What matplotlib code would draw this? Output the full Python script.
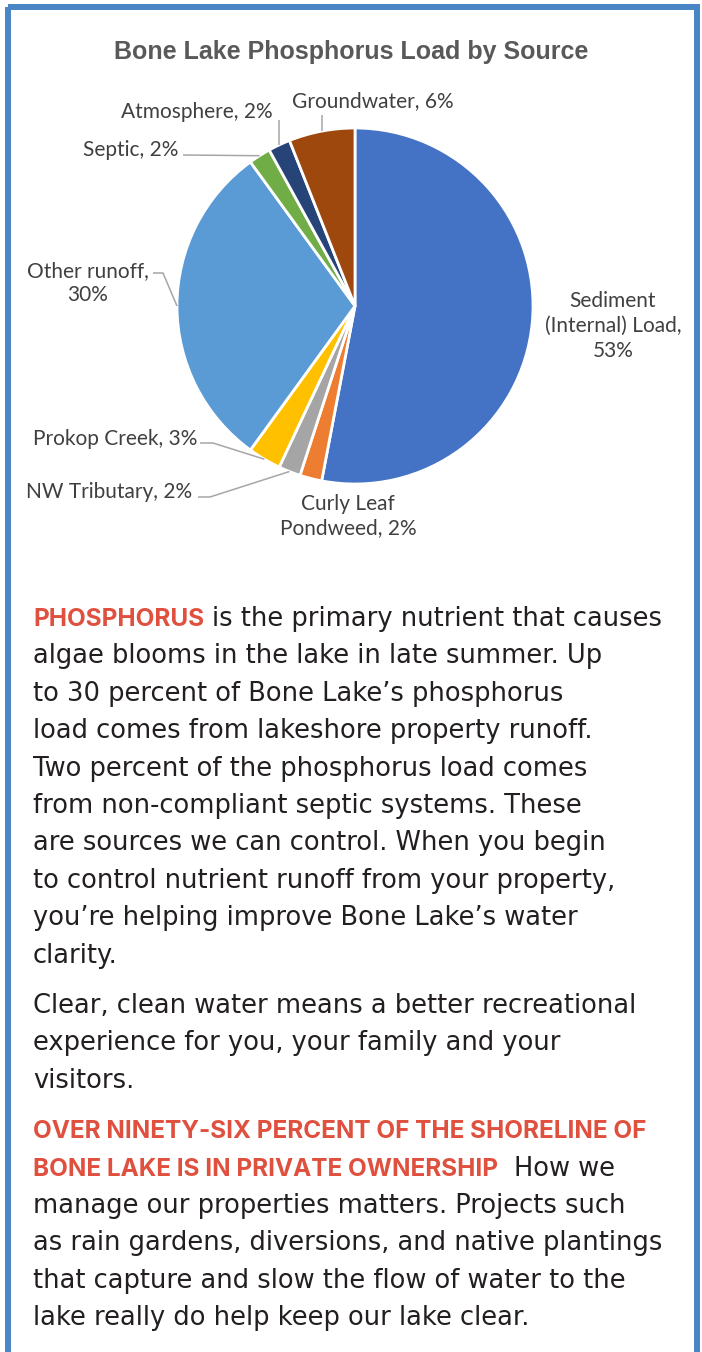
import matplotlib
matplotlib.use("Agg")
import matplotlib.pyplot as plt
from matplotlib.patches import Rectangle
from matplotlib.text import Text
import numpy as np

# ---------------- data ----------------
title = "Bone Lake Phosphorus Load by Source"
categories = ["Sediment\n(Internal) Load", "Curly Leaf\nPondweed", "NW Tributary",
              "Prokop Creek", "Other runoff", "Septic", "Atmosphere", "Groundwater"]
values = [53, 2, 2, 3, 30, 2, 2, 6]
colors = ["#4472C4", "#ED7D31", "#A5A5A5", "#FFC000",
          "#5B9BD5", "#70AD47", "#264478", "#9E480E"]
label_sep = [",\n", ", ", ", ", ", ", ",\n", ", ", ", ", ", "]

para1 = [
    [("PHOSPHORUS", "red"), ("is the primary nutrient that causes", "body")],
    [("algae blooms in the lake in late summer. Up", "body")],
    [("to 30 percent of Bone Lake\u2019s phosphorus", "body")],
    [("load comes from lakeshore property runoff.", "body")],
    [("Two percent of the phosphorus load comes", "body")],
    [("from non-compliant septic systems. These", "body")],
    [("are sources we can control. When you begin", "body")],
    [("to control nutrient runoff from your property,", "body")],
    [("you\u2019re helping improve Bone Lake\u2019s water", "body")],
    [("clarity.", "body")],
]
para2 = [
    [("Clear, clean water means a better recreational", "body")],
    [("experience for you, your family and your", "body")],
    [("visitors.", "body")],
]
para3 = [
    [("OVER NINETY-SIX PERCENT OF THE SHORELINE OF", "red")],
    [("BONE LAKE IS IN PRIVATE OWNERSHIP", "red"), (" How we", "body")],
    [("manage our properties matters. Projects such", "body")],
    [("as rain gardens, diversions, and native plantings", "body")],
    [("that capture and slow the flow of water to the", "body")],
    [("lake really do help keep our lake clear.", "body")],
]

# ---------------- layout ----------------
W, H = 702, 1352
fig = plt.figure(figsize=(W / 100, H / 100), dpi=100)
fig.patch.set_facecolor("white")
renderer = fig.canvas.get_renderer()

cx, cy, R = 355, 306, 178
axp = fig.add_axes([(cx - R) / W, 1 - (cy + R) / H, 2 * R / W, 2 * R / H])
wedges, _ = axp.pie(values, colors=colors, startangle=90, counterclock=False,
                    radius=1.0,
                    wedgeprops=dict(edgecolor="white", linewidth=2.0))
axp.set_xlim(-1, 1)
axp.set_ylim(-1, 1)
axp.set_aspect("equal")
axp.axis("off")

ov = fig.add_axes([0, 0, 1, 1])
ov.set_xlim(0, W)
ov.set_ylim(H, 0)
ov.axis("off")
ov.patch.set_visible(False)

# frame
ov.add_patch(Rectangle((8, 6.5), 689, 1400, fill=False, edgecolor="#4A86C5",
                       linewidth=4.3, clip_on=False))

ov.text(351, 52, title, ha="center", va="center", fontfamily="Liberation Sans",
        fontweight="bold", fontsize=18, color="#595959")

# labels
lab_font = dict(fontfamily="Lato", fontsize=15, color="#404040", linespacing=1.3)
label_pos = [(613, 326, "center"), (348, 516, "center"), (192, 492, "right"),
             (197, 439, "right"), (88, 283, "center"), (178, 150, "right"),
             (273, 112, "right"), (373, 101, "center")]
for cat, v, sep, (lx, ly, ha) in zip(categories, values, label_sep, label_pos):
    ov.text(lx, ly, f"{cat}{sep}{v}%", ha=ha, va="center",
            multialignment="center", **lab_font)

# leader lines from wedge midpoints
def anchor(w):
    a = np.deg2rad((w.theta1 + w.theta2) / 2)
    p = axp.transData.transform((np.cos(a), np.sin(a)))
    return ov.transData.inverted().transform(p)

leader_to = {2: [(210, 497), (198, 497)], 3: [(213, 443), (200, 443)],
             4: [(163, 273), (153, 273)], 5: [(183, 155)],
             6: "up120", 7: "up115"}
for i, tgt in leader_to.items():
    ax_, ay_ = anchor(wedges[i])
    if isinstance(tgt, str):
        pts = [(ax_, ay_), (ax_, float(tgt[2:]))]
    else:
        pts = [(ax_, ay_)] + tgt
    xs, ys = zip(*pts)
    ov.plot(xs, ys, color="#A6A6A6", lw=1.1, solid_capstyle="butt")

# body text
def width_of(s, st):
    t = Text(0, 0, s, **st)
    t.set_figure(fig)
    return t.get_window_extent(renderer).width

body_family = "DejaVu Sans"
ref_line = "Clear, clean water means a better recreational"
w0 = width_of(ref_line, dict(fontfamily=body_family, fontsize=17))
body_size = 17 * 603 / w0

styles = {
    "body": dict(fontfamily=body_family, fontsize=body_size, color="#231F20"),
    "red": dict(fontfamily="Inter", fontsize=17.5, color="#E0503F", fontweight="bold"),
}
space_w = width_of("a a", styles["body"]) - width_of("aa", styles["body"])

def draw_line(x, y, runs):
    for txt, kind in runs:
        lead = len(txt) - len(txt.lstrip(" "))
        x += lead * space_w
        txt = txt.lstrip(" ")
        t = ov.text(x, y, txt, ha="left", va="baseline", **styles[kind])
        x += t.get_window_extent(renderer).width + space_w

step = 37.4
y = 626
for line in para1:
    draw_line(33, y, line)
    y += step
y += 13
for line in para2:
    draw_line(33, y, line)
    y += step
y += 13
for line in para3:
    draw_line(33, y, line)
    y += step

fig.savefig("out.png", dpi=100, facecolor="white")
